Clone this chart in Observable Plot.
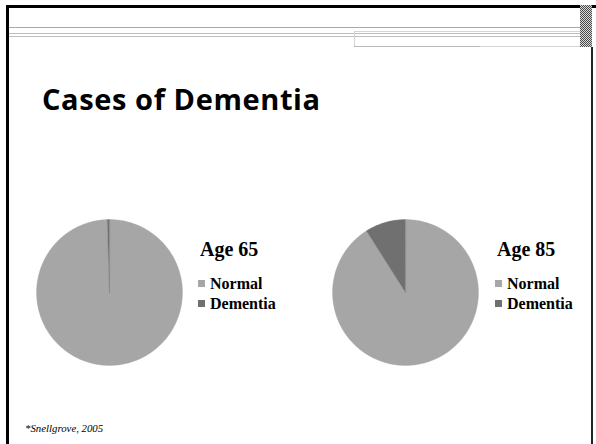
<!DOCTYPE html>
<html><head><meta charset="utf-8">
<script src="https://cdn.jsdelivr.net/npm/d3@7"></script>
<script src="https://cdn.jsdelivr.net/npm/@observablehq/plot@0.6"></script>
<style>
html,body{margin:0;padding:0;background:#fff;}
#slide{position:relative;width:596px;height:444px;overflow:hidden;background:#fff;}
#slide .abs{position:absolute;}
.title{font-family:"Open Sans",sans-serif;font-weight:700;font-size:29px;line-height:29px;letter-spacing:0.6px;color:#000;white-space:nowrap;}
.ptitle{font-family:"Liberation Serif",serif;font-weight:700;font-size:20px;line-height:20px;color:#000;white-space:nowrap;}
.caption{font-family:"Liberation Serif",serif;font-style:italic;font-size:10.8px;line-height:10.8px;color:#000;white-space:nowrap;}
#slide .lg-swatches{margin:0;font-family:"Liberation Serif",serif;font-weight:700;font-size:16px;color:#000;}
#slide .lg-swatches-columns .lg-swatch{height:20px;padding:0;margin:0;display:flex;align-items:center;}
#slide .lg-swatch > svg{margin-right:5px;}
</style></head>
<body><div id="slide"></div>
<script>
const slideTitle = "Cases of Dementia";
const caption = "*Snellgrove, 2005";
const categories = ["Normal", "Dementia"];
const pieTitles = ["Age 65", "Age 85"];
const age65Values = [99.5, 0.5];
const age85Values = [91, 9];
const palette = ["#a6a6a6", "#707070"];

const slide = document.getElementById("slide");
function box(cls, css, text) {
  const d = document.createElement("div");
  d.className = "abs " + (cls || "");
  Object.assign(d.style, css);
  if (text != null) d.textContent = text;
  slide.appendChild(d);
  return d;
}

// slide decorations
box("", {left:"6px", top:"5px", width:"590px", height:"3px", background:"#000"});
box("", {left:"6px", top:"5px", width:"3px", height:"439px", background:"#000"});
box("", {left:"591px", top:"47px", width:"2px", height:"397px", background:"#222"});
box("", {left:"9px", top:"27px", width:"571px", height:"1px", background:"#a8a8a8"});
box("", {left:"9px", top:"33px", width:"571px", height:"1px", background:"#bdbdbd"});
box("", {left:"9px", top:"36px", width:"571px", height:"1px", background:"#bdbdbd"});
box("", {left:"354px", top:"31px", width:"226px", height:"16px", border:"1px solid #d4d4d4", borderRight:"none", boxSizing:"border-box"});
box("", {left:"354px", top:"46px", width:"126px", height:"1px", background:"#bbb"});
box("", {left:"580px", top:"5px", width:"12px", height:"42px", background:"repeating-conic-gradient(#4a4a4a 0% 25%, #d8d8d8 0% 50%) 0 0/2px 2px"});

box("title", {left:"42px", top:"84px"}, slideTitle);
box("caption", {left:"25px", top:"423px"}, caption);

function pieFeatures(values) {
  const arcs = d3.pie().sort(null).value(d => d)(values);
  return arcs.map((a, i) => {
    const n = Math.max(2, Math.ceil((a.endAngle - a.startAngle) / (Math.PI / 180)));
    const pts = [[0, 0]];
    for (let k = 0; k <= n; k++) {
      const t = a.startAngle + (a.endAngle - a.startAngle) * k / n;
      pts.push([Math.sin(t), -Math.cos(t)]);
    }
    pts.push([0, 0]);
    return {type: "Feature", properties: {category: categories[i], value: values[i]},
            geometry: {type: "Polygon", coordinates: [pts]}};
  });
}

const pies = [
  {title: pieTitles[0], values: age65Values, left: 35, legendLeft: 198},
  {title: pieTitles[1], values: age85Values, left: 331, legendLeft: 495}
];

pies.forEach(p => {
  const features = pieFeatures(p.values);
  const plot = Plot.plot({
    width: 148, height: 148, margin: 0,
    projection: {type: "identity", inset: 1, domain: {type: "FeatureCollection", features}},
    color: {type: "ordinal", domain: categories, range: palette},
    marks: [
      Plot.geo(features, {fill: d => d.properties.category, stroke: d => d.properties.category, strokeWidth: 0.3})
    ]
  });
  const holder = box("", {left: p.left + "px", top: "218px"});
  holder.appendChild(plot);
  box("ptitle", {left: (p.legendLeft + 2) + "px", top: "239px"}, p.title);
  const lg = plot.legend("color", {columns: 1, swatchSize: 7, className: "lg"});
  const lh = box("", {left: p.legendLeft + "px", top: "273.5px"});
  lh.appendChild(lg);
});
</script></body></html>
